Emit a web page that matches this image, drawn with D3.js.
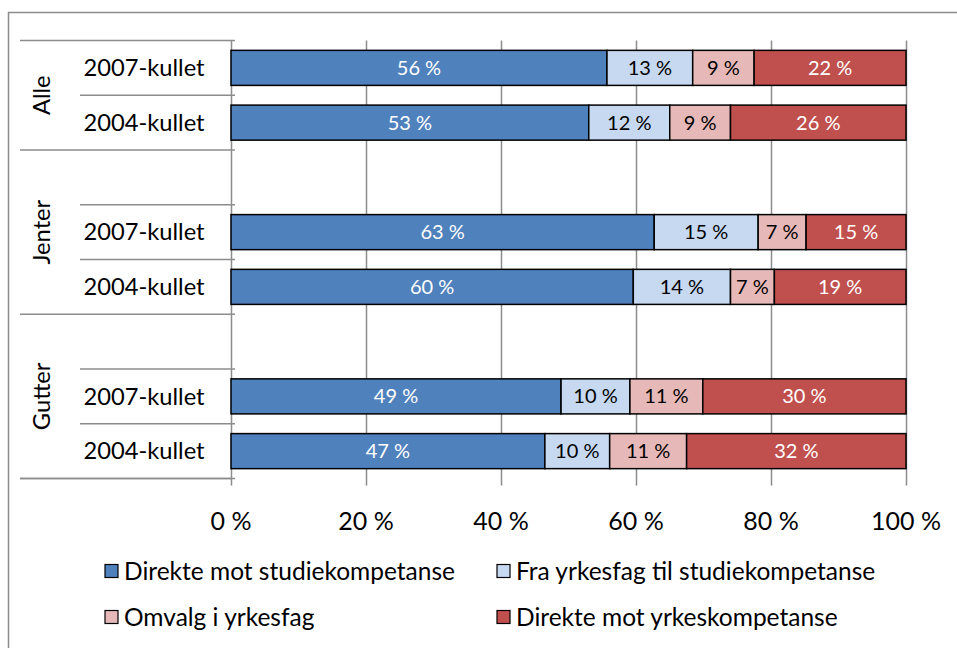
<!DOCTYPE html>
<html><head><meta charset="utf-8">
<script src="https://cdn.jsdelivr.net/npm/d3@7"></script>
<style>
body{margin:0;background:#fff;}
svg text{font-family:Lato, "Open Sans", sans-serif;}
</style></head>
<body><svg id="c" width="957" height="648"></svg>
<script>
const groups = ["Alle","Jenter","Gutter"];
const categories = [
  {group:"Alle", label:"2007-kullet"},
  {group:"Alle", label:"2004-kullet"},
  {group:"Jenter", label:""},
  {group:"Jenter", label:"2007-kullet"},
  {group:"Jenter", label:"2004-kullet"},
  {group:"Gutter", label:""},
  {group:"Gutter", label:"2007-kullet"},
  {group:"Gutter", label:"2004-kullet"}
];
const seriesNames = ["Direkte mot studiekompetanse","Fra yrkesfag til studiekompetanse","Omvalg i yrkesfag","Direkte mot yrkeskompetanse"];
const direkteStudie = [55.7, 53.0, null, 62.7, 59.6, null, 48.9, 46.5];
const fraYrkesfag   = [12.7, 12.0, null, 15.4, 14.4, null, 10.2, 9.6];
const omvalg        = [9.1, 9.0, null, 7.1, 6.5, null, 10.8, 11.4];
const direkteYrke   = [22.5, 26.0, null, 14.8, 19.5, null, 30.1, 32.5];
const shownLabels = [
  ["56 %","13 %","9 %","22 %"],
  ["53 %","12 %","9 %","26 %"],
  null,
  ["63 %","15 %","7 %","15 %"],
  ["60 %","14 %","7 %","19 %"],
  null,
  ["49 %","10 %","11 %","30 %"],
  ["47 %","10 %","11 %","32 %"]
];
const xTicks = [0,20,40,60,80,100];
const colors = ["#4F81BD","#C6D9F1","#E6B9B8","#C0504D"];
const textColors = ["#fff","#000","#000","#fff"];

const svg = d3.select("#c");
const pLeft = 231, pRight = 906, pTop = 40.5, pBottom = 478.5;
const x = d3.scaleLinear().domain([0,100]).range([pLeft,pRight]);
const y = d3.scaleBand().domain(d3.range(categories.length)).range([pTop,pBottom]).paddingInner(0.36).paddingOuter(0.18);
const step = y.step();

// outer border
svg.append("path").attr("d","M8.5,960 L8.5,12.5 L960,12.5").attr("fill","none").attr("stroke","#8c8c8c").attr("stroke-width",1.5);

// gridlines
const grid = "#8c8c8c";
svg.append("g").selectAll("line").data(xTicks).join("line")
  .attr("x1",d=>Math.round(x(d))+0.5).attr("x2",d=>Math.round(x(d))+0.5)
  .attr("y1",pTop).attr("y2",pBottom+7).attr("stroke",grid).attr("stroke-width",1.5);

// category axis lines
const yb = i => pTop + i*step;
svg.append("line").attr("x1",20).attr("x2",pLeft).attr("y1",pBottom).attr("y2",pBottom).attr("stroke",grid).attr("stroke-width",1.5);
const groupStarts = [0,2,5,8];
svg.append("g").selectAll("line").data(groupStarts).join("line")
  .attr("x1",20).attr("x2",pLeft+4).attr("y1",d=>yb(d)).attr("y2",d=>yb(d)).attr("stroke",grid).attr("stroke-width",1.5);
const innerBounds = [1,3,4,6,7];
svg.append("g").selectAll("line").data(innerBounds).join("line")
  .attr("x1",80).attr("x2",pLeft+4).attr("y1",d=>yb(d)).attr("y2",d=>yb(d)).attr("stroke",grid).attr("stroke-width",1.5);

// category labels
svg.append("g").selectAll("text").data(categories).join("text")
  .attr("x",144).attr("y",(d,i)=>y(i)+y.bandwidth()/2).attr("dy","0.35em")
  .attr("text-anchor","middle").attr("font-size",23.7).attr("fill","#000").text(d=>d.label);
// group labels
groups.forEach((g,gi)=>{
  const a = yb(groupStarts[gi]), b = yb(groupStarts[gi+1]);
  svg.append("text").attr("transform",`translate(42,${(a+b)/2}) rotate(-90)`)
    .attr("text-anchor","middle").attr("dy","0.35em").attr("font-size",23.7).text(g);
});

// bars
const series = [direkteStudie, fraYrkesfag, omvalg, direkteYrke];
categories.forEach((c,i)=>{
  if (direkteStudie[i]==null) return;
  let acc = 0;
  series.forEach((s,k)=>{
    const v = s[i];
    const x0 = x(acc), x1 = x(acc+v);
    svg.append("rect").attr("x",x0).attr("y",y(i)).attr("width",x1-x0).attr("height",y.bandwidth())
      .attr("fill",colors[k]).attr("stroke","#000").attr("stroke-width",1.5);
    svg.append("text").attr("x",(x0+x1)/2).attr("y",y(i)+y.bandwidth()/2).attr("dy","0.35em")
      .attr("text-anchor","middle").attr("font-size",20).attr("fill",textColors[k]).text(shownLabels[i][k]);
    acc += v;
  });
});

// x axis labels
svg.append("g").selectAll("text").data(xTicks).join("text")
  .attr("x",d=>x(d)).attr("y",521).attr("dy","0.35em").attr("text-anchor","middle")
  .attr("font-size",25).text(d=>d+" %");

// legend
const legPos = [[105,571],[497,571],[105,617],[497,617]];
seriesNames.forEach((n,k)=>{
  const [lx,ly] = legPos[k];
  svg.append("rect").attr("x",lx).attr("y",ly-6.5).attr("width",13).attr("height",13)
    .attr("fill",colors[k]).attr("stroke","#000").attr("stroke-width",1.2);
  svg.append("text").attr("x",lx+19).attr("y",ly).attr("dy","0.35em").attr("font-size",24.5).text(n);
});
</script></body></html>
